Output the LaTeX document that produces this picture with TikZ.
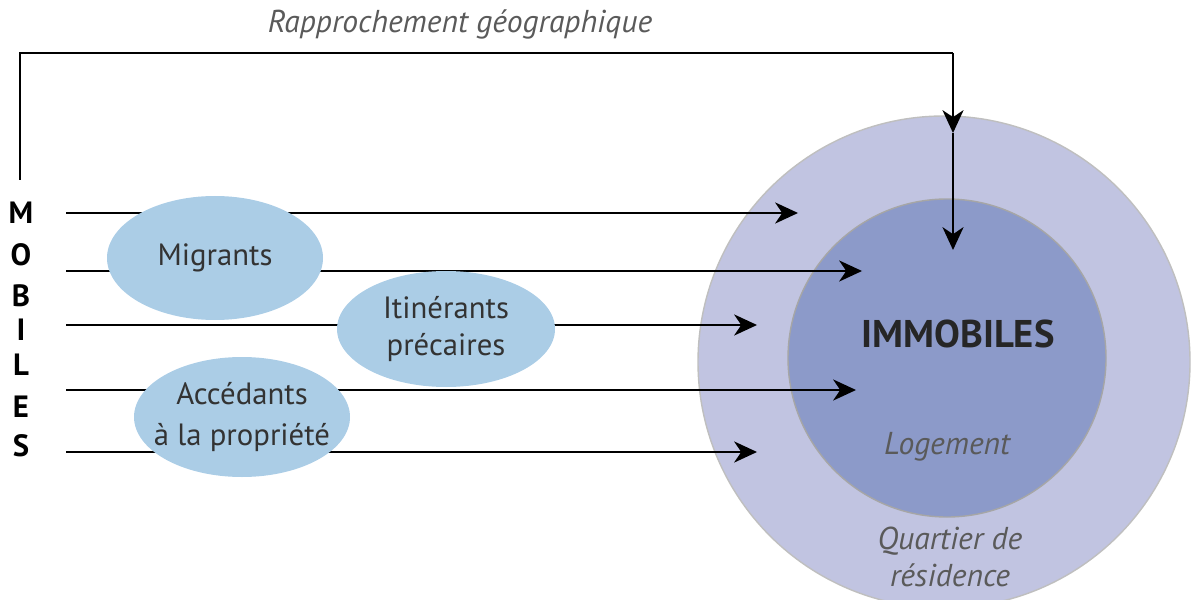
\documentclass[tikz,border=0pt]{standalone}
\usepackage{fontspec}
\setmainfont{PT Sans}
\usepackage{xcolor}
\usetikzlibrary{arrows.meta,positioning,calc,shapes.geometric}

\definecolor{quartier}{HTML}{C1C4E1}
\definecolor{logement}{HTML}{8C9AC9}
\definecolor{groupe}{HTML}{ABCDE6}
\definecolor{note}{HTML}{5A5A5A}

\tikzset{
  fleche/.style={line width=1.2pt,-{Stealth[length=13pt,width=12pt,inset=4pt]}},
  trait/.style={line width=1.2pt},
  lettre/.style={font=\fontsize{17.5}{19}\selectfont\bfseries},
  groupebox/.style={ellipse,fill=groupe,align=center,text=black!80,inner sep=-8pt,
    font=\fontsize{17.5}{21.5}\selectfont},
  legende/.style={align=center,text=note,font=\fontsize{18}{21.5}\selectfont\itshape}
}

\begin{document}
\begin{tikzpicture}[x=0.02cm,y=0.02cm]
		\useasboundingbox (0,0) rectangle (1192,599);

		% les deux cercles
		\draw[fill=quartier,draw=black!25,line width=0.8pt] (944,237) circle (246*0.02cm);
		\draw[fill=logement,draw=black!35,line width=0.8pt] (947,241) circle (159*0.02cm);

		% MOBILES
		\foreach \l/\y in {M/386,O/344,B/303,I/269,L/234,E/192,S/153}
			\node[lettre] (let\l) at (21,\y) {\l};

		% lignes des mobiles, sous les groupes
		\coordinate (d1) at (66,386); \coordinate (a1) at (798,386);
		\coordinate (d2) at (66,328); \coordinate (a2) at (862,328);
		\coordinate (d3) at (66,274); \coordinate (a3) at (757,274);
		\coordinate (d4) at (66,209); \coordinate (a4) at (856,209);
		\coordinate (d5) at (66,147); \coordinate (a5) at (757,147);
		\foreach \i in {1,...,5}
			\draw[fleche] (d\i) -- (a\i);

		% rapprochement geographique
		\coordinate (h0) at (20,419);
		\coordinate (h1) at (20,546);
		\coordinate (h2) at (953,546);
		\coordinate (hm) at (953,466);
		\coordinate (hb) at (953,349);
		\draw[trait] (h0) -- (h1) -- (h2);
		\draw[fleche] (h2) -- (hm);
		\draw[fleche] (hm) -- (hb);
		\node[legende] (rappro) at (460,575) {Rapprochement géographique};

		% groupes
		\node[groupebox,minimum width=216*0.02cm,minimum height=124*0.02cm] (migr) at (215,341) {Migrants};
		\node[groupebox,minimum width=218*0.02cm,minimum height=116*0.02cm] (itin) at (446,270) {Itinérants\\précaires};
		\node[groupebox,minimum width=216*0.02cm,minimum height=120*0.02cm,font=\fontsize{17.5}{23}\selectfont] (acc) at (242,182) {Accédants\\à la propriété};

		% textes des cercles
		\node[font=\fontsize{22}{26}\selectfont\bfseries,text=black!85] (immo) at (958,265) {IMMOBILES};
		\node[legende] (loge) at (947,152) {Logement};
		\node[legende] (quart) at (950,42) {Quartier de\\résidence};
	\end{tikzpicture}
\end{document}
